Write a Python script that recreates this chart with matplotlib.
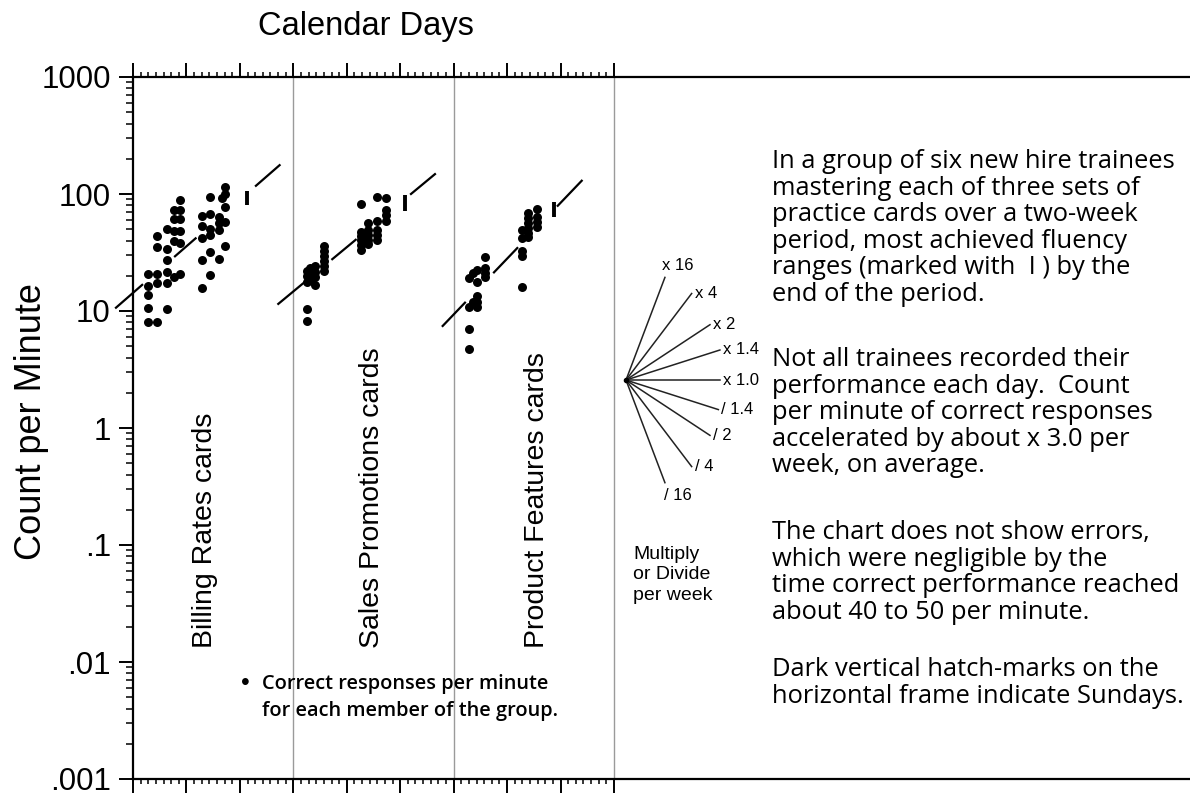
import numpy as np
import matplotlib
matplotlib.use('Agg')
import matplotlib.pyplot as plt

# --- data: (day, count per minute) for each set of practice cards ---
billing_days = [2.0] * 5 + [3.2] * 5 + [4.5] * 6 + [5.4] * 5 + [6.2] * 6 + \
               [9.1] * 5 + [10.1] * 6 + [11.3] * 4 + [11.6] + [12.1] * 5
billing_vals = [20.6, 16.4, 13.7, 10.7, 8.05,
                43.7, 35, 20.6, 17.2, 8.05,
                50.2, 33.7, 27.3, 21.7, 17.2, 10.4,
                72.9, 60.7, 48.3, 39.6, 19.6,
                88.9, 72.9, 60.7, 48.3, 38.4, 20.7,
                65.3, 53.2, 42.4, 27.3, 15.6,
                94.8, 67, 49.9, 44.6, 32.1, 20.3,
                64, 56.9, 49.2, 27.7,
                91.8,
                115.6, 100, 78, 58, 35.9]

sales_days = [22.75] * 2 + [22.8] * 3 + [23.2] * 3 + [23.8] * 4 + [25.0] * 6 + \
             [29.8] * 6 + [30.8] * 5 + [32.0] * 5 + [33.1] * 4
sales_vals = [10.3, 8.27,
              22.1, 19.9, 17.8,
              23.2, 21.0, 18.5,
              24.3, 21.7, 19.6, 16.7,
              36.2, 32.8, 29.5, 26.8, 24.3, 22.1,
              82, 47.6, 43.7, 40.4, 36.7, 33.2,
              56.9, 49.2, 44.6, 40.4, 37.1,
              94.8, 58.8, 49.2, 44.6, 40.4,
              91.8, 72.9, 65.7, 58.8]

product_days = [44.0] * 4 + [44.5] * 2 + [45.0] * 5 + [46.1] * 4 + \
               [50.9] * 5 + [51.8] * 6 + [52.9] * 4
product_vals = [19.3, 10.9, 7.0, 4.7,
                21, 12,
                22.4, 17.8, 13.5, 12.0, 10.9,
                28.8, 23.2, 21.0, 19.4,
                49.2, 41.8, 32.8, 29.7, 15.9,
                68.4, 62, 56.2, 50.9, 46.1, 42.6,
                74, 64, 58, 52.6]

# celeration lines: start day, start value, multiply per week, drawn pieces
cel_start_day = [-2.23, 19.03, 40.56]
cel_start_val = [10.67, 11.5, 7.45]
cel_per_week = [2.50, 2.39, 3.0]
cel_pieces = [[(-2.23, 1.2), (5.5, 8.2), (16.1, 19.2)],
              [(19.03, 22.44), (26.1, 29.17), (36.41, 39.55)],
              [(40.56, 43.48), (47.28, 50.33), (55.63, 58.77)]]

# fluency range marks
range_days = [14.9, 35.6, 55.2]
range_low = [80, 72, 64]
range_high = [107, 99, 85]

phase_lines = [21, 42, 63]
phase_names = ['Billing Rates cards', 'Sales Promotions cards', 'Product Features cards']
phase_name_days = [9.4, 31.3, 52.9]

# celeration fan
fan_mult = [16, 4, 2, 1.4, 1.0, 1 / 1.4, 1 / 2, 1 / 4, 1 / 16]
fan_labels = ['x 16', 'x 4', 'x 2', 'x 1.4', 'x 1.0', '/ 1.4', '/ 2', '/ 4', '/ 16']
fan_len_days = [5.1, 8.6, 11.0, 12.3, 12.3, 12.1, 11.0, 8.6, 5.1]
fan_origin = (64.57, 2.57)

ytick_vals = [0.001, 0.01, 0.1, 1, 10, 100, 1000]
ytick_labels = ['.001', '.01', '.1', '1', '10', '100', '1000']

notes = [
    "In a group of six new hire trainees\nmastering each of three sets of\n"
    "practice cards over a two-week\nperiod, most achieved fluency\n"
    "ranges (marked with  I ) by the\nend of the period.",
    "Not all trainees recorded their\nperformance each day.  Count\n"
    "per minute of correct responses\naccelerated by about x 3.0 per\n"
    "week, on average.",
    "The chart does not show errors,\nwhich were negligible by the\n"
    "time correct performance reached\nabout 40 to 50 per minute.",
    "Dark vertical hatch-marks on the\nhorizontal frame indicate Sundays.",
]
note_tops = [149, 347, 520, 657]

# --- figure ---
plt.rcParams['font.family'] = ['Liberation Sans', 'DejaVu Sans']
W, H = 1190, 798
fig = plt.figure(figsize=(W / 100, H / 100), dpi=100)
ax = fig.add_axes([133 / W, 1 - 779 / H, 1 - 133 / W, (779 - 77) / H])
ax.set_yscale('log')
ax.set_xlim(0, (W - 133) / 7.635)
ax.set_ylim(0.001, 1000)

ax.spines['right'].set_visible(False)
for s in ['left', 'top', 'bottom']:
    ax.spines[s].set_linewidth(1.6)

ax.set_yticks(ytick_vals)
ax.set_yticklabels(ytick_labels, fontsize=22.5)
ax.yaxis.set_minor_locator(matplotlib.ticker.LogLocator(base=10, subs=np.arange(2, 10)))
ax.yaxis.set_minor_formatter(matplotlib.ticker.NullFormatter())
ax.tick_params(axis='y', which='major', length=10, width=1.4, pad=6, direction='out')
ax.tick_params(axis='y', which='minor', length=5, width=1.1, direction='out')

ax.set_xticks(np.arange(0, 64, 7))
ax.set_xticks(np.arange(0, 64, 1), minor=True)
ax.tick_params(axis='x', which='both', top=True, bottom=True,
               labelbottom=False, labeltop=False, direction='out')
ax.tick_params(axis='x', which='major', length=10, width=1.4)
ax.tick_params(axis='x', which='minor', length=3.5, width=1.1)

for d in phase_lines:
    ax.axvline(d, color='#9a9a9a', lw=1.0, zorder=1)

for days, vals in [(billing_days, billing_vals), (sales_days, sales_vals),
                   (product_days, product_vals)]:
    ax.scatter(days, vals, s=42, color='black', zorder=3, linewidths=0)

for d0, v0, m, pieces in zip(cel_start_day, cel_start_val, cel_per_week, cel_pieces):
    for a, b in pieces:
        xs = np.array([a, b])
        ys = v0 * m ** ((xs - d0) / 7)
        ax.plot(xs, ys, color='black', lw=1.6, clip_on=False, zorder=3)

for d, lo, hi in zip(range_days, range_low, range_high):
    ax.plot([d, d], [lo, hi], color='black', lw=2.8, solid_capstyle='butt', zorder=3)

for name, d in zip(phase_names, phase_name_days):
    ax.text(d, 0.0132, name, rotation=90, ha='center', va='bottom', fontsize=20.5)

# fan
d0, v0 = fan_origin
for m, lab, e in zip(fan_mult, fan_labels, fan_len_days):
    x1 = d0 + e
    y1 = v0 * m ** (e / 7)
    ax.plot([d0, x1], [v0, y1], color='#222222', lw=1.1)
    if m > 10:
        off, va = (-3, 4), 'bottom'
    elif m < 0.1:
        off, va = (-1, -5), 'top'
    else:
        off, va = (3, 0), 'center'
    ax.annotate(lab, (x1, y1), xytext=off, textcoords='offset pixels',
                ha='left', va=va, fontsize=12)
ax.plot([d0], [v0], 'o', color='black', ms=3)

fig.text(633 / W, 1 - 546 / H, 'Multiply\nor Divide\nper week', ha='left', va='top',
         fontsize=14, linespacing=1.25)

fig.text(366 / W, 1 - 27 / H, 'Calendar Days', ha='center', va='center', fontsize=23.5)
fig.text(32 / W, 1 - 422 / H, 'Count per Minute', ha='center', va='center',
         rotation=90, fontsize=26)

# legend note
fig.text(245 / W, 1 - 683 / H, '\u2022', ha='center', va='center', fontsize=18)
fig.text(262 / W, 1 - 674 / H, 'Correct responses per minute\nfor each member of the group.',
         ha='left', va='top', fontsize=14.4, family=['Open Sans', 'DejaVu Sans'],
         weight='semibold', linespacing=1.45)

for txt, top in zip(notes, note_tops):
    fig.text(772 / W, 1 - top / H, txt, ha='left', va='top', fontsize=18.4,
             family=['Open Sans', 'DejaVu Sans'], linespacing=1.08)

fig.savefig('out.png', dpi=100)
